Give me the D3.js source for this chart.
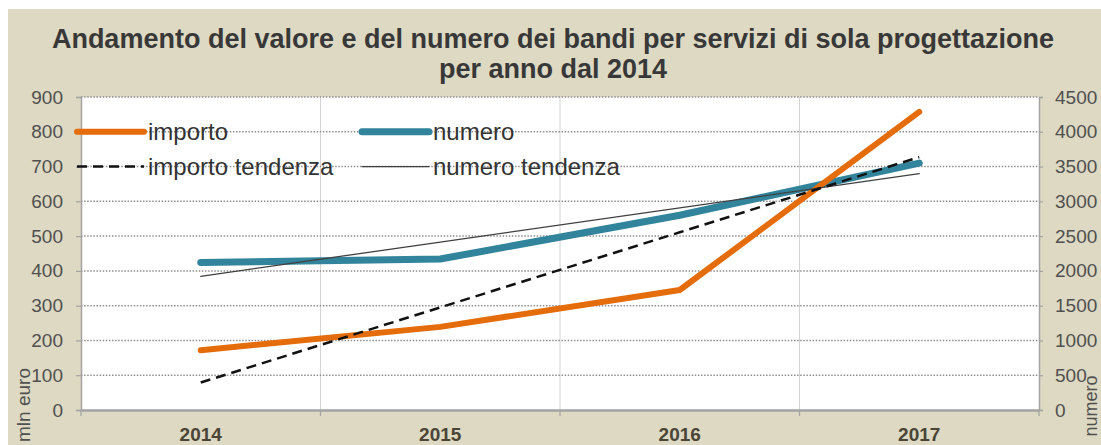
<!DOCTYPE html>
<html>
<head>
<meta charset="utf-8">
<script src="https://cdn.jsdelivr.net/npm/d3@7"></script>
<style>
  html, body { margin: 0; padding: 0; background: #fff; }
  svg { display: block; font-family: "Liberation Sans", Arial, sans-serif; }
</style>
</head>
<body>
<div id="chart"></div>
<script>
// data
const years = ["2014", "2015", "2016", "2017"];
const importo = [172, 239, 345, 857];          // mln euro, left axis
const numero = [2120, 2170, 2800, 3550];       // count, right axis
const importoTendenza = [79, 295, 511, 727];   // linear trend, left axis
const numeroTendenza = [1922, 2414, 2906, 3398]; // linear trend, right axis
const leftTicks = [0, 100, 200, 300, 400, 500, 600, 700, 800, 900];
const rightTicks = [0, 500, 1000, 1500, 2000, 2500, 3000, 3500, 4000, 4500];
const titleLines = [
    "Andamento del valore e del numero dei bandi per servizi di sola progettazione",
    "per anno dal 2014"
];

const width = 1101, height = 445;
const plot = {left: 81, right: 1039, top: 97, bottom: 410};

const svg = d3.select("#chart").append("svg")
    .attr("width", width)
    .attr("height", height);

// beige chart area
svg.append("rect")
    .attr("x", 8).attr("y", 9)
    .attr("width", width - 8).attr("height", height - 9)
    .attr("fill", "#ddd9c3");

svg.append("rect")
    .attr("x", plot.left).attr("y", plot.top)
    .attr("width", plot.right - plot.left).attr("height", plot.bottom - plot.top)
    .attr("fill", "#fff");

// title
svg.append("g").selectAll("text")
    .data(titleLines)
    .join("text")
    .attr("x", 553)
    .attr("y", (d, i) => 48 + i * 30)
    .attr("text-anchor", "middle")
    .attr("font-size", 27)
    .attr("font-weight", "bold")
    .attr("fill", "#383838")
    .text(d => d);

const x = d3.scaleBand().domain(years).range([plot.left, plot.right]).padding(0);
const yL = d3.scaleLinear().domain([0, 900]).range([plot.bottom, plot.top]);
const yR = d3.scaleLinear().domain([0, 4500]).range([plot.bottom, plot.top]);
const cx = d => x(d) + x.bandwidth() / 2;

// vertical gridlines at band boundaries
svg.append("g").selectAll("line")
    .data(years.slice(1))
    .join("line")
    .attr("x1", d => x(d)).attr("x2", d => x(d))
    .attr("y1", plot.top).attr("y2", plot.bottom)
    .attr("stroke", "#d4d4d4")
    .attr("stroke-width", 1);

// horizontal dotted gridlines
svg.append("g").selectAll("line")
    .data(leftTicks.slice(1))
    .join("line")
    .attr("x1", plot.left).attr("x2", plot.right)
    .attr("y1", d => yL(d)).attr("y2", d => yL(d))
    .attr("stroke", "#8f8f8f")
    .attr("stroke-width", 1.5)
    .attr("stroke-dasharray", "1.5 1.6");

// axes
const axisColor = "#a3a3a3";
const tickColor = "#505050";

const leftAxis = svg.append("g")
    .attr("transform", `translate(${plot.left},0)`)
    .call(d3.axisLeft(yL).tickValues(leftTicks).tickSize(5).tickPadding(13));

const rightAxis = svg.append("g")
    .attr("transform", `translate(${plot.right},0)`)
    .call(d3.axisRight(yR).tickValues(rightTicks).tickFormat(d3.format("d")).tickSize(4).tickPadding(12));

const bottomAxis = svg.append("g")
    .attr("transform", `translate(0,${plot.bottom})`)
    .call(d3.axisBottom(x).tickSize(0).tickPadding(18));

[leftAxis, rightAxis, bottomAxis].forEach(a => {
    a.select(".domain").attr("stroke", axisColor).attr("stroke-width", 1.5);
    a.selectAll(".tick line").attr("stroke", axisColor).attr("stroke-width", 1.2);
    a.selectAll(".tick text")
        .attr("font-family", "Liberation Sans, Arial, sans-serif")
        .attr("font-size", 19)
        .attr("fill", tickColor);
});
bottomAxis.select(".domain").attr("stroke-width", 2.5);
bottomAxis.selectAll(".tick text")
    .attr("font-weight", "bold")
    .attr("fill", "#4a4536");

// tick marks at band boundaries below the x-axis
svg.append("g").selectAll("line")
    .data([...years.map(d => x(d)), plot.right])
    .join("line")
    .attr("x1", d => d).attr("x2", d => d)
    .attr("y1", plot.bottom).attr("y2", plot.bottom + 6)
    .attr("stroke", axisColor)
    .attr("stroke-width", 1.2);

// axis titles
svg.append("text")
    .attr("transform", "translate(30,405) rotate(-90)")
    .attr("text-anchor", "middle")
    .attr("font-size", 19)
    .attr("fill", tickColor)
    .text("mln euro");

svg.append("text")
    .attr("transform", "translate(1097,406) rotate(-90)")
    .attr("text-anchor", "middle")
    .attr("font-size", 18)
    .attr("fill", tickColor)
    .text("numero");

// series
const lineL = d3.line().x((d, i) => cx(years[i])).y(d => yL(d));
const lineR = d3.line().x((d, i) => cx(years[i])).y(d => yR(d));

const series = [
    {name: "numero", values: numero, gen: lineR, color: "#31849b", width: 7, dash: null},
    {name: "importo", values: importo, gen: lineL, color: "#e46c0a", width: 6, dash: null},
    {name: "numero tendenza", values: numeroTendenza, gen: lineR, color: "#404040", width: 1.3, dash: null},
    {name: "importo tendenza", values: importoTendenza, gen: lineL, color: "#111", width: 2.5, dash: "10 6"}
];

svg.append("g").selectAll("path")
    .data(series)
    .join("path")
    .attr("d", d => d.gen(d.values))
    .attr("fill", "none")
    .attr("stroke", d => d.color)
    .attr("stroke-width", d => d.width)
    .attr("stroke-dasharray", d => d.dash)
    .attr("stroke-linecap", d => d.dash ? "butt" : "round")
    .attr("stroke-linejoin", "round");

// legend
const legendItems = [
    {s: series[1], x: 77, y: yL(800)},
    {s: series[0], x: 362, y: yL(800)},
    {s: series[3], x: 77, y: yL(700)},
    {s: series[2], x: 362, y: yL(700)}
];

const legend = svg.append("g").selectAll("g")
    .data(legendItems)
    .join("g")
    .attr("transform", d => `translate(${d.x},${d.y})`);

legend.append("line")
    .attr("x1", 0).attr("x2", 67)
    .attr("stroke", d => d.s.color)
    .attr("stroke-width", d => d.s.width)
    .attr("stroke-dasharray", d => d.s.dash)
    .attr("stroke-linecap", d => d.s.dash ? "butt" : "round");

legend.append("text")
    .attr("x", 71)
    .attr("y", 8)
    .attr("font-size", 24)
    .attr("fill", "#333")
    .text(d => d.s.name);
</script>
</body>
</html>
